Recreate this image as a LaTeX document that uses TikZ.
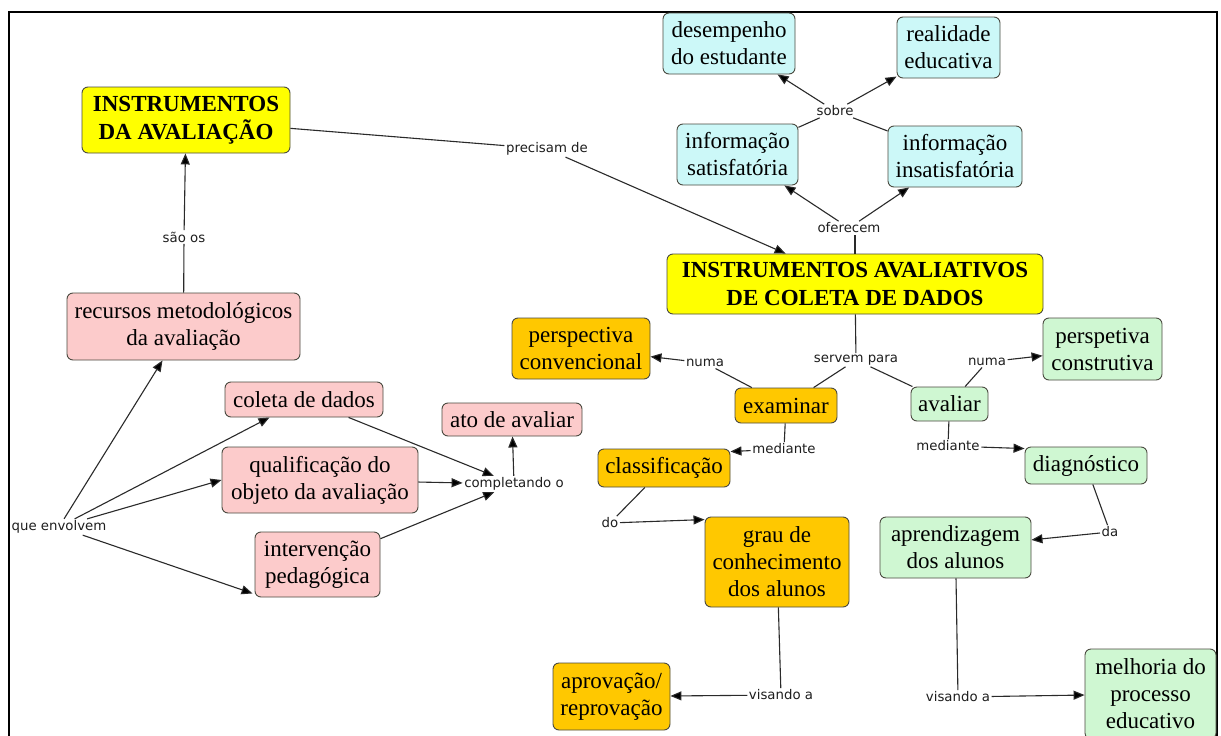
\documentclass[tikz,border=0pt]{standalone}
\usepackage{fontspec}
\setmainfont{Liberation Serif}
\newfontfamily\labelfont{DejaVu Sans}
\usetikzlibrary{arrows.meta}

\definecolor{yellowbox}{HTML}{FFFF00}
\definecolor{cyanbox}{HTML}{CCF8F8}
\definecolor{pinkbox}{HTML}{FCCBCB}
\definecolor{orangebox}{HTML}{FFC800}
\definecolor{greenbox}{HTML}{CFF7D2}
\definecolor{boxline}{HTML}{4A4A40}
\definecolor{linkc}{HTML}{2A2A2A}
\definecolor{labeltext}{HTML}{1E1E1E}

\tikzset{
  concept/.style={draw=boxline, line width=0.9pt, rounded corners=6pt,
    align=center, inner sep=0pt, text=black,
    font=\fontsize{23}{27}\selectfont},
  title/.style={concept, fill=yellowbox,
    font=\fontsize{23}{28}\selectfont\bfseries},
  lab/.style={font=\labelfont\fontsize{13.3}{15}\selectfont,
    text=labeltext, inner sep=1.5pt},
  link/.style={draw=linkc, line width=1.1pt},
  arr/.style={link, -{Triangle[length=11pt,width=9pt,fill=black]}}
}

\begin{document}
\begin{tikzpicture}[x=1pt,y=-1pt]
\useasboundingbox (0,0) rectangle (1221,736);
\clip (0,0) rectangle (1221,736);
\fill[white] (0,0) rectangle (1221,736);

% outer frame
\draw[line width=2pt, black] (9,12) rectangle (1217,770);

% ---------- concepts ----------
\node[title, minimum width=208pt, minimum height=66pt] (instA) at (186,120)
  {INSTRUMENTOS\\DA AVALIAÇÃO};
\node[title, minimum width=376pt, minimum height=60pt] (instB) at (855,284)
  {INSTRUMENTOS AVALIATIVOS\\DE COLETA DE DADOS};

\node[concept, fill=cyanbox, minimum width=132pt, minimum height=61pt] (desemp) at (729,43.5)
  {desempenho\\do estudante};
\node[concept, fill=cyanbox, minimum width=103pt, minimum height=61pt] (realid) at (948.5,47.5)
  {realidade\\educativa};
\node[concept, fill=cyanbox, minimum width=121pt, minimum height=61pt] (infsat) at (737.5,154.5)
  {informação\\satisfatória};
\node[concept, fill=cyanbox, minimum width=134pt, minimum height=61pt] (infins) at (955,156.5)
  {informação\\insatisfatória};

\node[concept, fill=pinkbox, minimum width=233pt, minimum height=67pt] (recursos) at (183.5,326.5)
  {recursos metodológicos\\da avaliação};
\node[concept, fill=pinkbox, minimum width=158pt, minimum height=35pt] (coleta) at (304,399.5)
  {coleta de dados};
\node[concept, fill=pinkbox, minimum width=196pt, minimum height=66pt] (qualif) at (320,480)
  {qualificação do\\objeto da avaliação};
\node[concept, fill=pinkbox, minimum width=125pt, minimum height=65pt] (interv) at (317.5,564.5)
  {intervenção\\pedagógica};
\node[concept, fill=pinkbox, minimum width=140pt, minimum height=33pt] (ato) at (512,419.5)
  {ato de avaliar};

\node[concept, fill=orangebox, minimum width=138pt, minimum height=61pt] (pconv) at (581,348.5)
  {perspectiva\\convencional};
\node[concept, fill=orangebox, minimum width=102pt, minimum height=35pt] (exam) at (786,405.5)
  {examinar};
\node[concept, fill=orangebox, minimum width=132pt, minimum height=38pt] (classif) at (664,468)
  {classificação};
\node[concept, fill=orangebox, minimum width=144pt, minimum height=90pt] (grau) at (777,562)
  {grau de\\conhecimento\\dos alunos};
\node[concept, fill=orangebox, minimum width=117pt, minimum height=67pt] (aprov) at (611.5,696.5)
  {aprovação/\\reprovação};

\node[concept, fill=greenbox, minimum width=77pt, minimum height=34pt] (avaliar) at (949.5,404)
  {avaliar};
\node[concept, fill=greenbox, minimum width=119pt, minimum height=62pt] (pconst) at (1102.5,349)
  {perspetiva\\construtiva};
\node[concept, fill=greenbox, minimum width=122pt, minimum height=37pt] (diag) at (1086,465.5)
  {diagnóstico};
\node[concept, fill=greenbox, minimum width=151pt, minimum height=61pt] (aprend) at (955.5,547.5)
  {aprendizagem\\dos alunos};
\node[concept, fill=greenbox, minimum width=131pt, minimum height=90pt] (melhoria) at (1150.5,694)
  {melhoria do\\processo\\educativo};

% ---------- linking phrases ----------
\node[lab] (sobre) at (835,111) {sobre};
\node[lab] (oferecem) at (849,228) {oferecem};
\node[lab] (precisam) at (547,149) {precisam de};
\node[lab] (saoos) at (184,237) {são os};
\node[lab] (envolvem) at (59,527) {que envolvem};
\node[lab] (completando) at (514,484) {completando o};
\node[lab] (numaL) at (705,363) {numa};
\node[lab] (servem) at (856,360) {servem para};
\node[lab] (numaR) at (987,362) {numa};
\node[lab] (medL) at (784,449) {mediante};
\node[lab] (medR) at (948,446) {mediante};
\node[lab] (do) at (610,523) {do};
\node[lab] (da) at (1110,532) {da};
\node[lab] (visL) at (781,695) {visando a};
\node[lab] (visR) at (958,697) {visando a};

% ---------- connectors ----------
\draw[link] (infsat) -- (sobre);
\draw[link] (infins) -- (sobre);
\draw[arr] (sobre) -- (desemp);
\draw[arr] (sobre) -- (realid);

\draw[link] (instB.north) -- (instB.north |- oferecem.south);
\draw[arr] (oferecem) -- (infsat);
\draw[arr] (oferecem) -- (infins);

\draw[link] (instA) -- (precisam);
\draw[arr] (precisam) -- (instB);

\draw[link] (recursos) -- (saoos);
\draw[arr] (saoos) -- (instA);

\draw[arr] (envolvem) -- (recursos);
\draw[arr] (envolvem) -- (coleta);
\draw[arr] (envolvem) -- (qualif.west);
\draw[arr] (envolvem) -- ([xshift=-2pt,yshift=4pt]interv.south west);

\draw[arr] (coleta) -- (completando);
\draw[arr] (qualif) -- (completando);
\draw[arr] (interv) -- (completando);
\draw[arr] (completando) -- (ato);

\draw[link] (instB) -- (servem);
\draw[link] (servem) -- (exam);
\draw[link] (servem) -- (avaliar);

\draw[link] (exam) -- (numaL);
\draw[arr] (numaL) -- (pconv);
\draw[link] (exam) -- (medL);
\draw[arr] (medL) -- ([yshift=-3pt]classif.north east);
\draw[link] (classif) -- (do);
\draw[arr] (do) -- ([yshift=-3pt]grau.north west);
\draw[link] (grau) -- (visL);
\draw[arr] (visL) -- (aprov);

\draw[link] (avaliar) -- (numaR);
\draw[arr] (numaR) -- (pconst);
\draw[link] (avaliar) -- (medR);
\draw[arr] (medR) -- ([yshift=-2pt]diag.north west);
\draw[link] (diag) -- (da);
\draw[arr] (da) -- (aprend);
\draw[link] (aprend) -- (visR);
\draw[arr] (visR) -- (melhoria);
\end{tikzpicture}
\end{document}
